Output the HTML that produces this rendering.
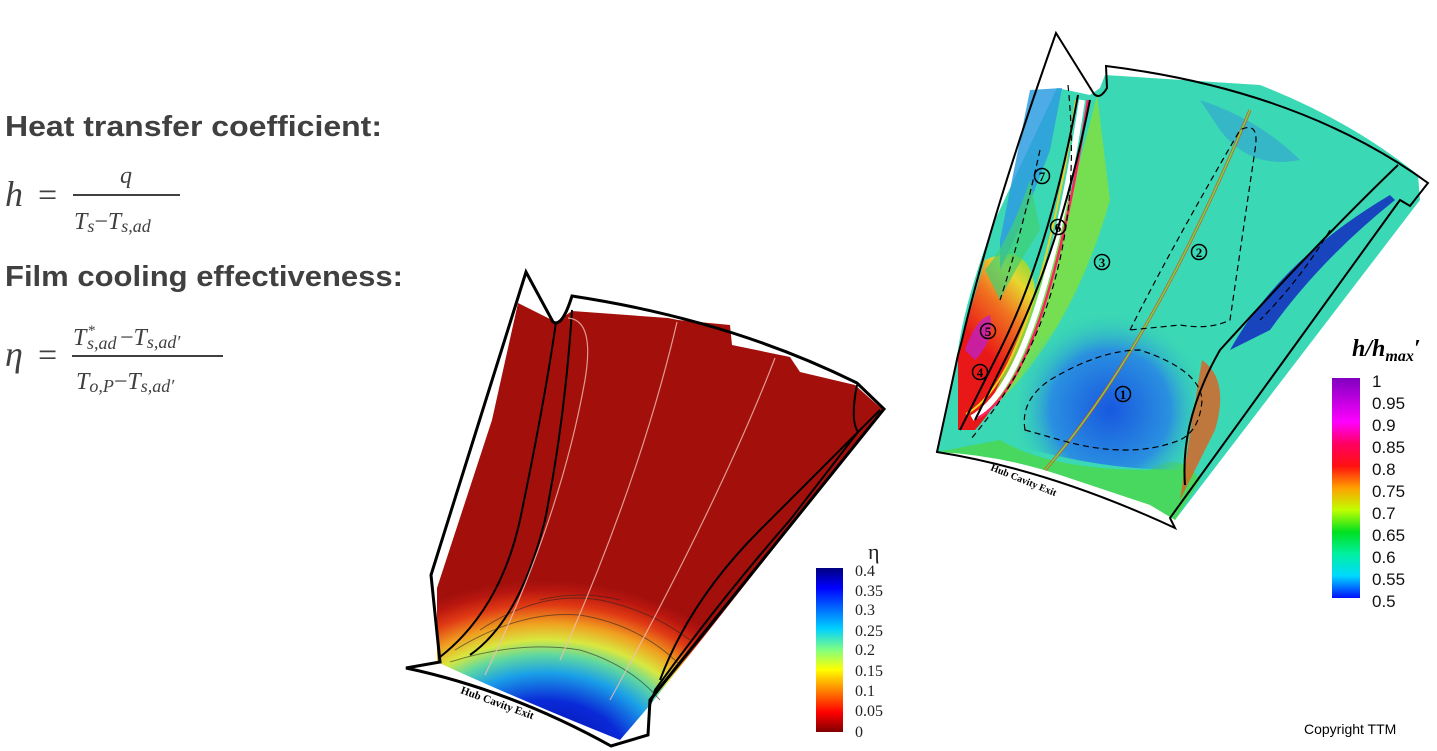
<!DOCTYPE html>
<html><head><meta charset="utf-8"><style>html,body{margin:0;padding:0;background:#fff;}svg{display:block}</style></head>
<body>
<svg width="1437" height="751" viewBox="0 0 1437 751" xmlns="http://www.w3.org/2000/svg">
<defs>
<radialGradient id="eta" cx="545" cy="765" r="230" gradientUnits="userSpaceOnUse" gradientTransform="translate(545 765) scale(1.05 0.8) translate(-545 -765)">
<stop offset="0" stop-color="#00008f"/>
<stop offset="0.35" stop-color="#0a2ad8"/>
<stop offset="0.5" stop-color="#1aa0e8"/>
<stop offset="0.6" stop-color="#60d8a0"/>
<stop offset="0.68" stop-color="#d8e840"/>
<stop offset="0.77" stop-color="#f0a020"/>
<stop offset="0.87" stop-color="#e03a14"/>
<stop offset="0.95" stop-color="#b8160f"/>
<stop offset="1" stop-color="#a3100c"/>
</radialGradient>
<linearGradient id="cbL" x1="0" y1="0" x2="0" y2="1">
<stop offset="0" stop-color="#00007f"/><stop offset="0.12" stop-color="#0000ff"/><stop offset="0.37" stop-color="#00d0ff"/><stop offset="0.5" stop-color="#80ff80"/><stop offset="0.62" stop-color="#ffff00"/><stop offset="0.75" stop-color="#ff8000"/><stop offset="0.88" stop-color="#ff0000"/><stop offset="1" stop-color="#800000"/>
</linearGradient>
<linearGradient id="cbR" x1="0" y1="0" x2="0" y2="1">
<stop offset="0" stop-color="#8000c0"/><stop offset="0.2" stop-color="#ff00ff"/><stop offset="0.3" stop-color="#ff0060"/><stop offset="0.4" stop-color="#ff1010"/><stop offset="0.5" stop-color="#ffa000"/><stop offset="0.6" stop-color="#c0ff00"/><stop offset="0.7" stop-color="#00e020"/><stop offset="0.8" stop-color="#00f0a0"/><stop offset="0.9" stop-color="#00d8ff"/><stop offset="1" stop-color="#0010ff"/>
</linearGradient>
<linearGradient id="leftR" x1="965" y1="330" x2="1040" y2="260" gradientUnits="userSpaceOnUse">
<stop offset="0" stop-color="#e81818"/><stop offset="0.4" stop-color="#f07020"/><stop offset="0.7" stop-color="#e8d830"/><stop offset="1" stop-color="#60d840"/>
</linearGradient>
<radialGradient id="blue1" cx="1110" cy="410" r="100" gradientUnits="userSpaceOnUse">
<stop offset="0" stop-color="#1858e0"/><stop offset="0.6" stop-color="#2a90e0"/><stop offset="1" stop-color="#3ad8b4" stop-opacity="0"/>
</radialGradient>
</defs>

<g fill="#404040">
<text x="5" y="136" font-family="Liberation Sans, sans-serif" font-weight="bold" font-size="29" textLength="377" lengthAdjust="spacingAndGlyphs">Heat transfer coefficient:</text>
<text x="5" y="286" font-family="Liberation Sans, sans-serif" font-weight="bold" font-size="29" textLength="398" lengthAdjust="spacingAndGlyphs">Film cooling effectiveness:</text>
<g font-family="Liberation Serif, serif" font-style="italic">
<text x="5" y="206" font-size="36">h</text>
<text x="38" y="206" font-size="34" font-style="normal">=</text>
<text x="120" y="183" font-size="24">q</text>
<rect x="73" y="194" width="107" height="2"/>
<text x="74" y="229" font-size="24">T<tspan font-size="18" dy="3">s</tspan><tspan dy="-3" font-style="normal">−</tspan>T<tspan font-size="18" dy="3">s,ad</tspan></text>
<text x="5" y="366" font-size="36">η</text>
<text x="38" y="366" font-size="34" font-style="normal">=</text>
<text x="73" y="345" font-size="24">T</text>
<text x="88" y="335" font-size="15" font-style="normal">*</text>
<text x="87" y="349" font-size="18">s,ad</text>
<text x="120" y="345" font-size="24"><tspan font-style="normal">−</tspan>T<tspan font-size="18" dy="3">s,ad′</tspan></text>
<rect x="72" y="355" width="151" height="2"/>
<text x="76" y="389" font-size="24">T<tspan font-size="18" dy="3">o,P</tspan><tspan dy="-3" font-style="normal">−</tspan>T<tspan font-size="18" dy="3">s,ad′</tspan></text>
</g>
</g>

<!-- Left map -->
<path d="M437,662 L437,588 L492,420 L518,303 L556,322 L572,311 L668,318 L678,320 L730,325 L732,345 L790,357 L800,372 L855,385 L883,410 L650,705 L620,740 Q520,700 437,662 Z" fill="url(#eta)"/>
<g fill="none" stroke="#000" stroke-width="3">
<path d="M406,668 L440,662 L431,575 L526,272 L553,322 Q562,328 572,296 Q730,320 857,383 L884,409 L650,700 L648,735 L611,746 Q510,690 406,668 Z"/>
</g>
<g fill="none" stroke="#000" stroke-width="2">
<path d="M556,322 Q545,400 520,520 Q500,610 440,657"/>
<path d="M572,310 Q565,420 545,520 Q520,620 470,655"/>
<path d="M857,385 Q850,420 858,432 L790,520 Q720,600 655,690 L650,705"/>
<path d="M880,410 Q840,450 760,530 Q690,600 660,680"/>
</g>
<g fill="none" stroke="#222" stroke-width="1" opacity="0.55">
<path d="M450,662 Q520,640 580,650 Q630,665 660,700"/>
<path d="M455,650 Q520,610 580,615 Q640,625 680,665"/>
<path d="M480,630 Q540,590 600,600 Q650,610 690,640"/>
<path d="M540,600 Q580,590 620,600"/>
</g>
<g fill="none" stroke="#f0c0b0" stroke-width="1.2" opacity="0.8">
<path d="M568,318 Q595,320 585,380 Q560,520 485,675"/>
<path d="M677,322 Q640,480 560,660"/>
<path d="M775,358 Q720,500 610,700"/>
</g>
<text x="460" y="693" font-family="Liberation Serif, serif" font-weight="bold" font-size="11" transform="rotate(20 460 693)">Hub Cavity Exit</text>
<rect x="816" y="568" width="27" height="164" fill="url(#cbL)"/>
<g font-family="Liberation Serif, serif" font-size="16" fill="#222">
<text x="868" y="559" font-size="22">η</text>
<text x="855" y="576">0.4</text><text x="855" y="596">0.35</text><text x="855" y="615">0.3</text><text x="855" y="636">0.25</text><text x="855" y="655">0.2</text><text x="855" y="676">0.15</text><text x="855" y="696">0.1</text><text x="855" y="716">0.05</text><text x="855" y="737">0</text>
</g>

<!-- Right map -->
<path d="M958,350 Q965,300 995,220 L1057,88 L1090,95 L1100,88 L1105,75 L1260,85 Q1350,120 1418,175 L1420,200 L1175,520 L1165,480 L1150,500 L1040,462 Q990,450 937,452 Z" fill="#3ad8b4"/>
<path d="M937,452 Q1000,455 1060,475 L1150,505 L1175,520 L1200,480 Q1180,450 1150,470 Q1050,470 1000,440 Z" fill="#48d860"/>
<path d="M958,430 L958,352 L985,260 Q1030,240 1035,290 Q1020,380 975,430 Z" fill="url(#leftR)"/>
<path d="M965,350 Q975,320 990,315 Q995,340 975,360 Z" fill="#c020c0" opacity="0.8"/>
<path d="M1000,240 L1030,90 L1062,88 L1050,150 Q1020,230 1000,270 Z" fill="#2e9ce0" opacity="0.85"/>
<path d="M985,270 Q1010,240 1030,180 L1040,230 Q1020,260 1000,300 Z" fill="#40d070" opacity="0.7"/>
<path d="M1097,95 Q1060,250 985,415 Q1070,340 1110,200 Z" fill="#80e040" opacity="0.85"/>
<path d="M1025,340 Q1070,310 1140,315 Q1195,325 1205,345 L1180,470 Q1100,470 1015,445 Z" fill="url(#blue1)"/>
<path d="M1395,200 Q1320,260 1270,330 L1230,350 Q1280,260 1390,195 Z" fill="#1020c0" opacity="0.8"/>
<path d="M1200,100 Q1260,120 1300,160 Q1250,170 1220,130 Z" fill="#3090e0" opacity="0.45"/>
<path d="M1202,360 Q1230,380 1215,430 L1180,500 Q1190,430 1202,360 Z" fill="#e06020" opacity="0.8"/>
<path d="M972,418 Q1040,380 1082,100" fill="none" stroke="#fff" stroke-width="6"/>
<path d="M978,418 Q1046,380 1088,100" fill="none" stroke="#ff2060" stroke-width="2.5"/>
<path d="M966,414 Q1034,378 1076,100" fill="none" stroke="#f0d020" stroke-width="2"/>
<path d="M1045,470 Q1150,350 1250,110" fill="none" stroke="#ff3020" stroke-width="3" opacity="0.8"/>
<path d="M1045,470 Q1150,350 1250,110" fill="none" stroke="#60e040" stroke-width="1.5"/>
<g fill="none" stroke="#000" stroke-width="2">
<path d="M937,452 L958,355 L962,340 Q990,220 1056,33 L1094,94 Q1100,100 1107,88 L1106,66 Q1300,90 1428,183 L1410,206 L1400,200 L1170,518 L1175,528 Q1050,470 937,452 Z"/>
<path d="M1090,100 Q1060,250 1010,350 Q985,400 975,420"/>
<path d="M1078,95 Q1050,250 1000,350 Q980,390 960,430"/>
<path d="M1398,165 Q1320,240 1220,350 Q1180,420 1185,485"/>
</g>
<g fill="none" stroke="#000" stroke-width="1.2" stroke-dasharray="6,4">
<path d="M1025,430 Q1020,400 1050,380 Q1100,350 1140,350 Q1200,370 1202,400 Q1200,430 1180,440 Q1130,460 1060,440 Z"/>
<path d="M1130,330 Q1170,250 1240,130 Q1260,120 1255,150 L1230,320 Q1210,330 1180,325 Z"/>
<path d="M1068,85 Q1090,300 970,440"/>
<path d="M1040,150 Q1020,240 1000,300"/>
<path d="M1330,230 Q1300,280 1260,320"/>
</g>
<g font-family="Liberation Serif, serif" font-size="13" font-weight="bold" text-anchor="middle" fill="#000">
<g fill="none" stroke="#000" stroke-width="1.5">
<circle cx="1123" cy="394" r="7.5"/><circle cx="1199" cy="252" r="7.5"/><circle cx="1102" cy="262" r="7.5"/><circle cx="980" cy="372" r="7.5"/><circle cx="988" cy="331" r="7.5"/><circle cx="1058" cy="227" r="7.5"/><circle cx="1042" cy="176" r="7.5"/>
</g>
<text x="1123" y="399">1</text><text x="1199" y="257">2</text><text x="1102" y="267">3</text><text x="980" y="377">4</text><text x="988" y="336">5</text><text x="1058" y="232">6</text><text x="1042" y="181">7</text>
</g>
<text x="990" y="470" font-family="Liberation Serif, serif" font-weight="bold" font-size="10" transform="rotate(22 990 470)">Hub Cavity Exit</text>
<rect x="1332" y="378" width="28" height="220" fill="url(#cbR)"/>
<text x="1352" y="356" font-family="Liberation Serif, serif" font-weight="bold" font-style="italic" font-size="24">h/h<tspan font-size="16" dy="5">max</tspan><tspan dy="-5">′</tspan></text>
<g font-family="Liberation Sans, sans-serif" font-size="17" fill="#111">
<text x="1372" y="387">1</text><text x="1372" y="409">0.95</text><text x="1372" y="431">0.9</text><text x="1372" y="453">0.85</text><text x="1372" y="475">0.8</text><text x="1372" y="497">0.75</text><text x="1372" y="519">0.7</text><text x="1372" y="541">0.65</text><text x="1372" y="563">0.6</text><text x="1372" y="585">0.55</text><text x="1372" y="607">0.5</text>
</g>
<text x="1304" y="734" font-family="Liberation Sans, sans-serif" font-size="14" fill="#000">Copyright TTM</text>
</svg>
</body></html>
